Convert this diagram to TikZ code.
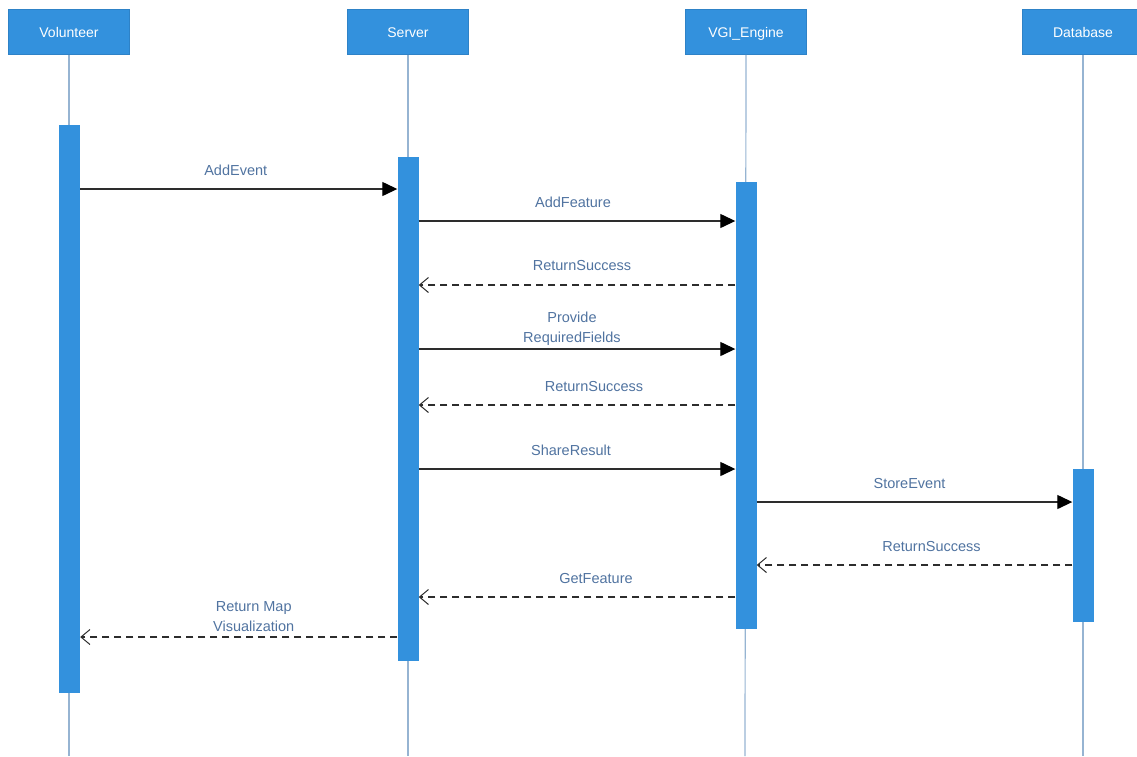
\documentclass[tikz,border=0pt]{standalone}
\usepackage{fontspec}
\setmainfont{Liberation Sans}
\usetikzlibrary{arrows.meta}
\definecolor{boxblue}{RGB}{51,145,221}
\definecolor{lifegray}{RGB}{150,180,210}
\definecolor{lbltxt}{RGB}{80,115,160}
\definecolor{arrgray}{RGB}{45,45,45}
\tikzset{
  actor/.style={draw=boxblue!90!black, line width=0.5pt, fill=boxblue, text=white, minimum width=121pt, minimum height=45pt, inner sep=0pt, text depth=0pt, text height=10pt, font=\fontsize{14}{16}\selectfont},
  life/.style={draw=lifegray, line width=1.2pt},
  bar/.style={fill=boxblue, draw=none, minimum width=21pt, inner sep=0pt},
  lbl/.style={text=lbltxt, font=\fontsize{14.5}{20}\selectfont, align=center, inner sep=0pt},
  sync/.style={draw=arrgray, line width=1.3pt, -{Triangle[length=15pt,width=14pt,color=black]}},
  reply/.style={draw=arrgray, line width=1.3pt, dash pattern=on 7pt off 5pt, -{Straight Barb[length=9pt,width=15pt,line width=1pt]}}
}
\begin{document}
\begin{tikzpicture}[x=1pt,y=-1pt]
\useasboundingbox (0,0) rectangle (1137,756);
% lifeline ends
\coordinate (vend) at (69,756);
\coordinate (send) at (408,756);
\coordinate (eend) at (745,756);
\coordinate (dend) at (1083,756);
% headers
\node[actor] (vol) at (69,32) {Volunteer};
\node[actor] (srv) at (408,32) {Server};
\node[actor] (eng) at (746,32) {VGI\_Engine};
\node[actor] (db) at (1083,32) {Database};
\draw[life] (vol.south) -- (vend);
\draw[life] (srv.south) -- (send);
\draw[life] (eng.south) -- (eend);
\draw[life] (db.south) -- (dend);
% activation bars
\node[bar, minimum height=568pt] (vb) at (69.5,409) {};
\node[bar, minimum height=504pt] (sb) at (408,409) {};
\node[bar, minimum height=447pt] (eb) at (746,405.5) {};
\node[bar, minimum height=153pt] (db2) at (1083,545.5) {};
% messages
\draw[sync] (vb.east |- 0,189) -- node[lbl, midway, yshift=19pt, xshift=-3pt] {AddEvent} (sb.west |- 0,189);
\draw[sync] (sb.east |- 0,221) -- node[lbl, midway, yshift=19pt, xshift=-4pt] {AddFeature} (eb.west |- 0,221);
\draw[reply] (eb.west |- 0,285) -- node[lbl, midway, yshift=19pt, xshift=5pt] {ReturnSuccess} (sb.east |- 0,285);
\draw[sync] (sb.east |- 0,349) -- node[lbl, midway, yshift=20pt, xshift=-5pt] {Provide\\RequiredFields} (eb.west |- 0,349);
\draw[reply] (eb.west |- 0,405) -- node[lbl, midway, yshift=19pt, xshift=17pt] {ReturnSuccess} (sb.east |- 0,405);
\draw[sync] (sb.east |- 0,469) -- node[lbl, midway, yshift=19pt, xshift=-6pt] {ShareResult} (eb.west |- 0,469);
\draw[sync] (eb.east |- 0,502) -- node[lbl, midway, yshift=19pt, xshift=-5pt] {StoreEvent} (db2.west |- 0,502);
\draw[reply] (db2.west |- 0,565) -- node[lbl, midway, yshift=19pt, xshift=17pt] {ReturnSuccess} (eb.east |- 0,565);
\draw[reply] (eb.west |- 0,597) -- node[lbl, midway, yshift=19pt, xshift=19pt] {GetFeature} (sb.east |- 0,597);
\draw[reply] (sb.west |- 0,637) -- node[lbl, midway, yshift=20pt, xshift=15pt] {Return Map\\Visualization} (vb.east |- 0,637);
\end{tikzpicture}
\end{document}
